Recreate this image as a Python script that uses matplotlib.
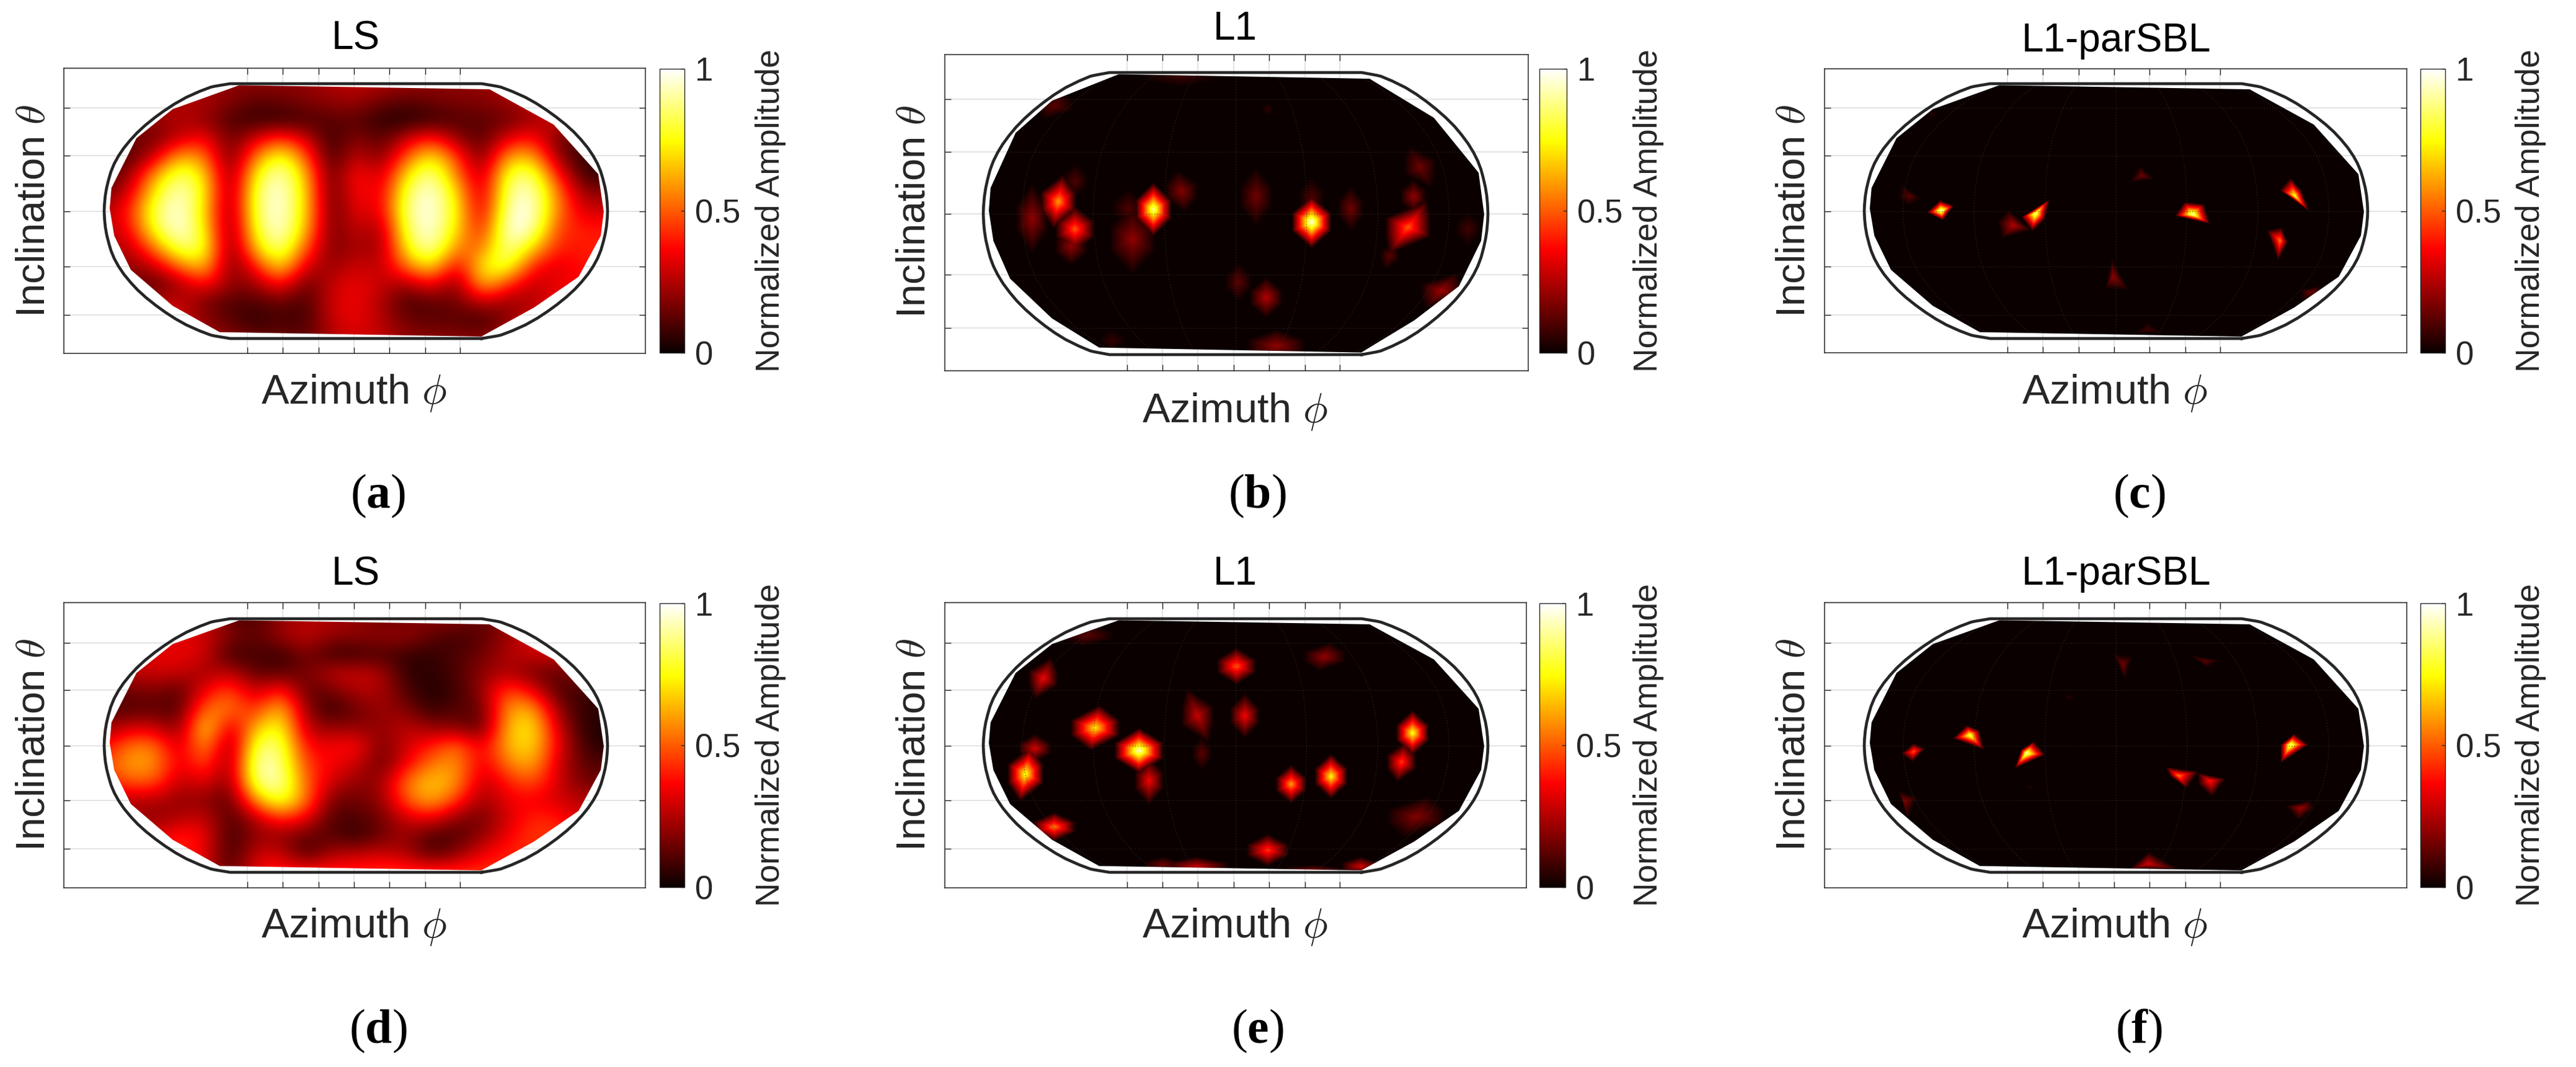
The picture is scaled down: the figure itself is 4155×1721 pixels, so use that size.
import numpy as np
import matplotlib
matplotlib.use("Agg")
import matplotlib.pyplot as plt
from matplotlib.patches import Polygon
from matplotlib.cm import ScalarMappable
from matplotlib.colors import Normalize
from matplotlib.tri import Triangulation, LinearTriInterpolator

W, H = 4155, 1721
plt.rcParams['font.family'] = ['Liberation Sans', 'DejaVu Sans']
plt.rcParams['mathtext.fontset'] = 'custom'
plt.rcParams['mathtext.rm'] = 'Liberation Serif'
plt.rcParams['mathtext.bf'] = 'Liberation Serif:bold'
plt.rcParams['mathtext.it'] = 'Liberation Serif:italic'

# ---------- labels ----------
titles = ['LS', 'L1', 'L1-parSBL', 'LS', 'L1', 'L1-parSBL']
panel_tags = ['a', 'b', 'c', 'd', 'e', 'f']
cbar_ticks = [0, 0.5, 1]
cbar_ticklabels = ['0', '0.5', '1']
x_tick_vals = [-0.43, -0.29, -0.149, -0.008, 0.132, 0.275, 0.414]
y_tick_vals = [0.81, 0.437, 0.0, -0.435, -0.813]
meridians = [-0.846, -0.564, -0.282, 0.0, 0.282, 0.564, 0.846]

# ---------- map outline (half width against height) ----------
outline_y = [0, .062, .124, .186, .248, .31, .372, .434, .4958, .5571, .6176, .6769, .7346, .7903, .8435, .8936, .9394, .9761, 1.0]
outline_w = [1.0, .9986, .9954, .99, .9822, .973, .96, .9427, .9216, .8962, .8679, .835, .7986, .7597, .7186, .6732, .6213, .5722, .5]

# filled area boundary of the maps
fill_x = [-.463, .531, .786, .963, .985, .973, .885, .708, .498, -.541, -.728, -.894, -.96, -.978, -.971, -.872, -.728]
fill_y = [.988, .956, .679, .29, -.005, -.193, -.515, -.757, -.985, -.95, -.743, -.461, -.193, .021, .182, .572, .80]

# ---------- LS maps: amplitude on a coarse grid ----------
grid_x = [round(-1 + .1 * i, 1) for i in range(21)]
grid_y = [1, .857, .714, .571, .429, .286, .143, 0, -.143, -.286, -.429, -.571, -.714, -.857, -1]
ls_top = [
 [.2,.2,.2,.2,.2,.2,.2,.2,.2,.25,.28,.25,.22,.2,.2,.2,.25,.3,.3,.3,.3],
 [.25,.25,.25,.25,.25,.18,.12,.14,.18,.2,.22,.15,.12,.15,.18,.18,.22,.28,.3,.3,.3],
 [.2,.2,.2,.25,.2,.1,.06,.06,.08,.12,.12,.05,.03,.06,.1,.12,.14,.22,.3,.3,.3],
 [.15,.15,.15,.28,.38,.12,.3,.45,.3,.05,.2,.1,.28,.42,.2,.1,.32,.4,.15,.1,.1],
 [.1,.1,.28,.65,.55,.1,.55,.82,.5,.05,.3,.15,.5,.75,.45,.12,.62,.65,.2,.05,.05],
 [.08,.2,.6,.88,.7,.12,.75,.97,.65,.08,.42,.25,.72,.93,.55,.2,.82,.88,.4,.08,.05],
 [.15,.3,.75,.97,.75,.12,.85,1,.7,.08,.4,.3,.85,1,.7,.22,.9,.97,.55,.2,.2],
 [.25,.4,.85,1,.7,.12,.85,1,.7,.1,.35,.3,.9,1,.75,.25,.95,1,.55,.3,.3],
 [.25,.35,.8,1,.75,.1,.8,1,.65,.12,.3,.2,.85,1,.7,.35,1,.95,.45,.4,.4],
 [.25,.25,.55,.88,.82,.1,.68,.93,.5,.15,.25,.2,.75,.97,.55,.5,.95,.7,.4,.4,.4],
 [.2,.2,.28,.55,.7,.12,.4,.75,.3,.2,.3,.25,.55,.75,.3,.75,.85,.4,.3,.4,.4],
 [.15,.15,.1,.22,.4,.2,.2,.42,.12,.28,.35,.28,.22,.38,.15,.68,.45,.25,.35,.35,.35],
 [.25,.25,.25,.3,.15,.1,.1,.14,.08,.3,.35,.25,.08,.12,.15,.28,.2,.25,.35,.35,.35],
 [.3,.3,.3,.3,.2,.12,.05,.1,.08,.28,.35,.25,.15,.12,.12,.06,.2,.3,.35,.35,.35],
 [.3,.3,.3,.3,.22,.2,.15,.15,.12,.25,.3,.28,.2,.2,.2,.2,.25,.3,.3,.3,.3],
]
ls_bottom = [
 [.3,.3,.3,.3,.3,.12,.1,.2,.25,.25,.2,.15,.15,.2,.2,.12,.2,.3,.3,.3,.3],
 [.3,.3,.3,.32,.3,.18,.12,.22,.28,.2,.2,.2,.22,.12,.08,.12,.22,.3,.3,.3,.3],
 [.3,.3,.32,.35,.3,.06,.1,.05,.18,.06,.06,.1,.06,.06,.1,.15,.25,.3,.3,.25,.25],
 [.25,.25,.3,.28,.22,.28,.12,.12,.15,.28,.3,.25,.05,.05,.1,.2,.25,.15,.12,.2,.2],
 [.15,.15,.18,.1,.35,.5,.25,.45,.12,.15,.25,.25,.1,.03,.08,.2,.5,.35,.1,.08,.08],
 [.1,.1,.12,.1,.55,.55,.4,.7,.2,.05,.15,.22,.18,.05,.12,.12,.6,.65,.2,.05,.05],
 [.2,.3,.3,.15,.78,.25,.65,.8,.25,.2,.2,.2,.28,.2,.18,.1,.65,.75,.3,.05,.03],
 [.35,.55,.55,.25,.65,.12,.85,.88,.35,.35,.4,.15,.3,.4,.55,.3,.65,.72,.35,.08,.03],
 [.45,.62,.6,.3,.5,.15,.95,.9,.45,.35,.3,.12,.35,.55,.6,.3,.55,.65,.3,.12,.1],
 [.4,.5,.5,.25,.35,.15,.9,.95,.5,.3,.2,.2,.55,.68,.6,.25,.4,.5,.3,.15,.15],
 [.25,.25,.25,.2,.2,.1,.6,.85,.55,.15,.15,.2,.5,.65,.45,.2,.35,.35,.3,.25,.25],
 [.22,.22,.2,.25,.3,.08,.25,.45,.35,.1,.1,.15,.3,.35,.18,.15,.3,.42,.4,.3,.3],
 [.25,.25,.3,.42,.35,.06,.2,.2,.12,.12,.05,.15,.22,.08,.1,.2,.35,.45,.45,.3,.3],
 [.3,.3,.35,.42,.35,.05,.3,.3,.08,.25,.28,.3,.25,.1,.2,.35,.42,.42,.35,.3,.3],
 [.3,.3,.35,.35,.3,.1,.35,.42,.42,.42,.42,.45,.45,.45,.45,.45,.4,.35,.3,.3,.3],
]

# ---------- L1 maps: x, y, amplitude, half width, half height, lean ----------
l1_top = [
 (-.704,.085,.6,.055,.15,.1), (-.638,-.11,.5,.06,.13,0), (-.653,-.23,.2,.05,.11,0),
 (-.808,-.036,.2,.05,.2,0), (-.638,.23,.1,.04,.1,0), (-.327,.03,.9,.055,.15,0),
 (-.41,-.18,.2,.07,.2,0), (-.426,.036,.1,.05,.11,0), (-.216,.158,.18,.05,.12,-.1),
 (.08,.12,.15,.05,.17,0), (.30,-.06,.98,.06,.145,0), (.30,.11,.1,.04,.12,0),
 (.455,.036,.15,.04,.13,0), (.682,-.097,.5,.07,.15,.4), (.704,.12,.2,.04,.1,0),
 (.73,.33,.15,.05,.12,-.3), (.61,-.3,.12,.03,.08,.2), (.92,-.11,.08,.04,.1,0),
 (.815,-.546,.22,.065,.1,.5), (.12,-.595,.25,.05,.115,0), (.01,-.485,.12,.04,.11,0),
 (.16,-.935,.2,.09,.09,0), (-.72,.765,.12,.06,.08,.4), (-.22,.97,.07,.12,.06,0),
 (-.49,-.9,.06,.04,.07,0), (.126,.74,.05,.02,.04,0),
]
l1_bottom = [
 (-.558,.137,.72,.075,.14,.1), (-.384,-.043,.95,.075,.14,0), (-.834,-.226,.78,.055,.17,.1),
 (-.797,-.024,.3,.05,.09,0), (-.344,-.28,.35,.045,.15,0), (-.72,-.644,.55,.065,.09,0),
 (-.764,.528,.35,.045,.13,.2), (.002,.623,.5,.06,.115,0), (.351,.698,.2,.065,.09,.2),
 (-.152,.232,.28,.05,.17,-.2), (.035,.232,.35,.045,.14,0), (-.135,-.065,.12,.03,.11,0),
 (.219,-.307,.6,.047,.12,0), (.377,-.245,.75,.05,.14,0), (.70,.097,.78,.05,.14,0),
 (.656,-.132,.45,.045,.125,.1), (.715,-.563,.18,.09,.13,.3), (.126,-.827,.45,.065,.1,0),
 (-.157,-.954,.28,.1,.06,0), (-.289,-.94,.15,.06,.05,0), (.494,-.954,.3,.06,.06,0),
 (.307,-.98,.15,.1,.03,0), (-.587,.865,.12,.08,.07,.3),
]

# ---------- L1-parSBL maps: x, y, amplitude, surrounding vertices ----------
sbl_top = [
 (-.696,0,.98,[(-.70,.07),(-.653,.035),(-.69,-.064),(-.744,-.011)]),
 (-.321,-.019,.92,[(-.273,.075),(-.289,-.059),(-.332,-.14),(-.369,-.046)]),
 (-.408,-.113,.25,[(-.425,-.011),(-.347,-.145),(-.447,-.199),(-.462,-.086)]),
 (.302,-.027,.95,[(.275,.054),(.341,.04),(.362,-.091),(.243,-.038)]),
 (.709,.115,.8,[(.694,.236),(.731,.156),(.759,.013),(.659,.156)]),
 (.651,-.234,.55,[(.655,-.145),(.677,-.247),(.644,-.368),(.607,-.166)]),
 (-.013,-.515,.2,[(-.017,-.395),(.041,-.609),(-.039,-.596)]),
 (.774,-.636,.15,[(.807,-.596),(.811,-.655),(.742,-.69),(.738,-.623)]),
 (.102,.277,.15,[(.095,.344),(.145,.25),(.059,.231)]),
 (-.82,.115,.12,[(-.852,.196),(-.781,.102),(-.824,.048),(-.859,.102)]),
 (.124,-.932,.08,[(.124,-.878),(.178,-.958),(.08,-.958)]),
 (-.733,.76,.05,[(-.75,.8),(-.71,.76),(-.74,.72)]),
]
sbl_bottom = [
 (-.581,.078,.85,[(-.592,.146),(-.549,.11),(-.534,-.019),(-.64,.057)]),
 (-.805,-.051,.5,[(-.805,.008),(-.766,-.03),(-.809,-.119),(-.848,-.065)]),
 (-.358,-.065,.95,[(-.332,.016),(-.293,-.073),(-.397,-.167),(-.375,-.038)]),
 (.692,.003,.92,[(.705,.078),(.753,.003),(.659,-.119),(.659,.003)]),
 (.247,-.24,.55,[(.204,-.181),(.315,-.213),(.275,-.326),(.217,-.24)]),
 (.373,-.28,.4,[(.33,-.226),(.427,-.267),(.38,-.388),(.334,-.307)]),
 (.731,-.496,.22,[(.768,-.442),(.779,-.496),(.725,-.577),(.681,-.482)]),
 (-.842,-.442,.18,[(-.863,-.367),(-.798,-.415),(-.831,-.563)]),
 (.124,-.935,.3,[(.13,-.854),(.232,-.973),(.059,-.973)]),
 (.026,.636,.15,[(-.007,.709),(.059,.69),(.033,.528)]),
 (.351,.663,.12,[(.297,.704),(.406,.671),(.362,.617)]),
 (-.187,.38,.05,[(-.21,.4),(-.165,.39),(-.187,.35)]),
 (-.343,-.33,.04,[(-.355,-.31),(-.325,-.325),(-.343,-.35)]),
]

# ---------- layout in pixels ----------
#          ax_l  ax_r  ax_t  ax_b  map_cx map_hw map_t map_b cb_l  cb_r  cb_t  cb_b
layout = [
 (103, 1041, 110, 570, 574, 406, 135, 546, 1064, 1104, 111, 569),
 (1524, 2465, 88, 598, 1993, 407, 117, 572, 2483, 2527, 111, 569),
 (2943, 3882, 111, 569, 3413, 406, 135, 546, 3904, 3944, 111, 569),
 (103, 1041, 972, 1432, 574, 406, 998, 1407, 1064, 1104, 973, 1431),
 (1524, 2462, 972, 1432, 1993, 407, 998, 1407, 2483, 2525, 973, 1431),
 (2943, 3882, 972, 1432, 3413, 406, 998, 1407, 3904, 3944, 973, 1431),
]
title_xy = [(574, 63), (1992, 47), (3413, 66), (574, 926), (1992, 926), (3413, 926)]
xlabel_xy = [(571, 634), (1992, 664), (3411, 634), (571, 1495), (1992, 1495), (3411, 1495)]
ylabel_xy = [(55, 340), (1475, 341), (2894, 340), (55, 1201), (1475, 1201), (2894, 1201)]
cblabel_xy = [(1243, 340), (2659, 340), (4082, 340), (1243, 1202), (2659, 1202), (4082, 1202)]
tag_xy = [(610, 800), (2028, 800), (3450, 800), (610, 1663), (2028, 1663), (3450, 1663)]
SPOT_SCALE = 1.3
KITE_SCALE = 1.2

INK = '#262626'
fig = plt.figure(figsize=(W / 100, H / 100), dpi=100, facecolor='white')


def fx(p): return p / W
def fy(p): return 1 - p / H


fine_x = np.linspace(-1.02, 1.02, 900)
fine_y = np.linspace(1.02, -1.02, 700)
FX, FY = np.meshgrid(fine_x, fine_y)


def add_vertices_field(field, x, y, v, rim):
    rim = sorted(rim, key=lambda p: np.arctan2(p[1] - y, p[0] - x))
    xs = [x] + [p[0] for p in rim]
    ys = [y] + [p[1] for p in rim]
    zs = [v] + [0.0] * len(rim)
    n = len(rim)
    tris = [[0, i + 1, (i + 1) % n + 1] for i in range(n)]
    tri = Triangulation(xs, ys, triangles=tris)
    vals = LinearTriInterpolator(tri, zs)(FX, FY).filled(0.0)
    return np.maximum(field, vals)


def spots_field(spots):
    field = np.zeros_like(FX)
    for s in spots:
        if len(s) == 4:
            x, y, v, rim = s
            rim = [(x + KITE_SCALE * (p[0] - x), y + KITE_SCALE * (p[1] - y)) for p in rim]
        else:
            x, y, v, w, h, lean = s
            w, h = w * SPOT_SCALE, h * SPOT_SCALE
            rim = [(x + lean * h, y + h), (x + w, y + .35 * h), (x + w, y - .35 * h),
                   (x - lean * h, y - h), (x - w, y - .35 * h), (x - w, y + .35 * h)]
        field = add_vertices_field(field, x, y, v, rim)
    return field


def draw_panel(i, data):
    l, r, t, b, mcx, mhw, mt, mb, cl, cr, ct, cb = layout[i]
    ax = fig.add_axes([fx(l), fy(b), (r - l) / W, (b - t) / H])
    mcy = (mt + mb) / 2
    mhh = (mb - mt) / 2
    for s in ax.spines.values():
        s.set_color(INK)
        s.set_linewidth(1.1)
    ax.set_xticks(x_tick_vals)
    ax.set_yticks(y_tick_vals)
    ax.tick_params(direction='in', length=7, width=1, color=INK, top=True, right=True,
                   labelbottom=False, labelleft=False)
    ax.grid(True, color='#e4e4e4', lw=1.4, zorder=0)
    ax.set_axisbelow(True)

    clip = Polygon(np.column_stack([fill_x, fill_y]), closed=True, transform=ax.transData,
                   facecolor='none', edgecolor='none')
    ax.add_patch(clip)
    if i % 3 == 0:
        dx = .05
        dy = 1 / 14
        im = ax.imshow(np.array(data), cmap='hot', vmin=0, vmax=1, aspect='auto',
                       interpolation='bicubic', origin='upper',
                       extent=(grid_x[0] - dx, grid_x[-1] + dx, grid_y[-1] - dy, grid_y[0] + dy),
                       zorder=2)
    else:
        im = ax.imshow(spots_field(data), cmap='hot', vmin=0, vmax=1, aspect='auto',
                       interpolation='bilinear', origin='upper',
                       extent=(fine_x[0], fine_x[-1], fine_y[-1], fine_y[0]), zorder=2)
    im.set_clip_path(clip)

    ys = np.linspace(-1, 1, 301)
    widths = np.interp(np.abs(ys), outline_y, outline_w)
    if i % 3 != 0:
        for m in meridians:
            ax.plot(m * widths, ys, color='#3d302b', lw=.8, ls=(0, (1, 3)), zorder=3, clip_path=clip)
        for yv in y_tick_vals:
            ax.plot([-1, 1], [yv, yv], color='#3d302b', lw=.8, ls=(0, (1, 3)), zorder=3, clip_path=clip)
    ox = np.r_[widths, -widths[::-1], widths[0]]
    oy = np.r_[ys, ys[::-1], ys[0]]
    ax.plot(ox, oy, color=INK, lw=3.4, zorder=4, solid_joinstyle='miter')

    ax.set_xlim((l - mcx) / mhw, (r - mcx) / mhw)
    ax.set_ylim((mcy - b) / mhh, (mcy - t) / mhh)

    cax = fig.add_axes([fx(cl), fy(cb), (cr - cl) / W, (cb - ct) / H])
    cbar = fig.colorbar(ScalarMappable(Normalize(0, 1), 'hot'), cax=cax, ticks=cbar_ticks)
    cbar.ax.set_yticklabels(cbar_ticklabels, fontsize=38, color=INK)
    cbar.ax.tick_params(direction='in', length=4, width=1, color=INK, pad=12)
    cbar.outline.set_edgecolor(INK)
    cbar.outline.set_linewidth(1.0)

    tx, ty = title_xy[i]
    fig.text(fx(tx), fy(ty), titles[i], fontsize=46, color='black', ha='center', va='center')
    tx, ty = xlabel_xy[i]
    fig.text(fx(tx), fy(ty), r'Azimuth $\phi$', fontsize=48, color=INK, ha='center', va='center',
             math_fontfamily='cm')
    tx, ty = ylabel_xy[i]
    fig.text(fx(tx), fy(ty), r'Inclination $\theta$', fontsize=47, color=INK, ha='center', va='center',
             rotation=90, math_fontfamily='cm')
    tx, ty = cblabel_xy[i]
    fig.text(fx(tx), fy(ty), 'Normalized Amplitude', fontsize=38.5, color=INK, ha='center', va='center',
             rotation=90)
    tx, ty = tag_xy[i]
    fig.text(fx(tx), fy(ty), r'$(\mathbf{%s})$' % panel_tags[i], fontsize=56, color='black',
             ha='center', va='center')


panels = [ls_top, l1_top, sbl_top, ls_bottom, l1_bottom, sbl_bottom]
for idx, d in enumerate(panels):
    draw_panel(idx, d)

fig.savefig('out.png', dpi=100, facecolor='white')
